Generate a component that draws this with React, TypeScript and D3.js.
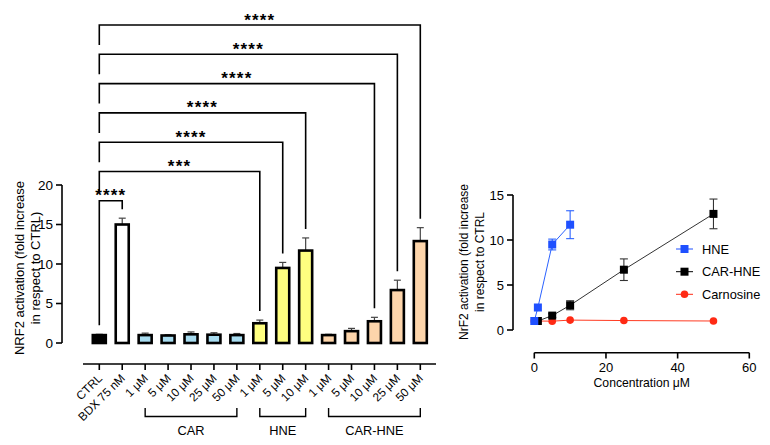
import React from "react";
import * as d3 from "d3";

// ---------- Left chart data ----------
const categories = [
  "CTRL", "BDX 75 nM",
  "1 μM", "5 μM", "10 μM", "25 μM", "50 μM",
  "1 μM", "5 μM", "10 μM",
  "1 μM", "5 μM", "10 μM", "25 μM", "50 μM",
];
const barGroups = ["ctrl", "bdx", "car", "car", "car", "car", "car", "hne", "hne", "hne", "carhne", "carhne", "carhne", "carhne", "carhne"];
const barValues = [1.0, 15.0, 1.0, 0.95, 1.1, 1.05, 1.0, 2.5, 9.5, 11.7, 1.0, 1.5, 2.75, 6.7, 12.9];
const barErrors = [0.1, 0.8, 0.25, 0.1, 0.3, 0.25, 0.2, 0.4, 0.7, 1.6, 0.1, 0.35, 0.5, 1.25, 1.7];
const leftTicks = [0, 5, 10, 15, 20];

// brackets: target index (from CTRL), stars label
const brackets = [
  { to: 14, label: "****" },
  { to: 13, label: "****" },
  { to: 12, label: "****" },
  { to: 9, label: "****" },
  { to: 8, label: "****" },
  { to: 7, label: "***" },
  { to: 1, label: "****" },
];
const groupBrackets = [
  { name: "CAR", from: 2, to: 6 },
  { name: "HNE", from: 7, to: 9 },
  { name: "CAR-HNE", from: 10, to: 14 },
];

// ---------- Right chart data ----------
const hneX = [0, 1, 5, 10];
const hneY = [1.0, 2.5, 9.5, 11.7];
const hneErr = [0, 0.1, 0.6, 1.55];
const carHneX = [1, 5, 10, 25, 50];
const carHneY = [1.0, 1.6, 2.75, 6.7, 12.9];
const carHneErr = [0, 0.2, 0.5, 1.2, 1.65];
const carnosineX = [0, 1, 5, 10, 25, 50];
const carnosineY = [1.0, 1.0, 0.98, 1.1, 1.05, 1.0];
const rightYTicks = [0, 5, 10, 15];
const rightXTicks = [0, 20, 40, 60];

const FONT = "'Liberation Sans', Arial, Helvetica, sans-serif";
const fills: Record<string, string> = {
  ctrl: "#000000",
  bdx: "#ffffff",
  car: "#a8dcf0",
  hne: "#ffff80",
  carhne: "#fdd5ab",
};

export default function App() {
  // left scales
  const yL = d3.scaleLinear().domain([0, 20]).range([343, 185]);
  const xL = d3.scalePoint<number>().domain(d3.range(categories.length)).range([99.3, 420.3]);
  const barW = 13;
  const axisY = 364;

  // right scales
  const xR = d3.scaleLinear().domain([0, 60]).range([534.3, 749.3]);
  const yR = d3.scaleLinear().domain([0, 15]).range([330, 195]);
  const line = d3.line<[number, number]>().x((d) => xR(d[0])).y((d) => yR(d[1]));

  const hne: [number, number][] = hneX.map((x, i) => [x, hneY[i]]);
  const carHne: [number, number][] = carHneX.map((x, i) => [x, carHneY[i]]);
  const carn: [number, number][] = carnosineX.map((x, i) => [x, carnosineY[i]]);

  const topOf = (i: number) => yL(barValues[i] + barErrors[i]);

  return (
    <svg width={770} height={445} style={{ display: "block", position: "absolute", left: 0, top: 0 }} fontFamily={FONT}>
      <rect width={770} height={445} fill="#fff" />
      {/* ---------- Left chart ---------- */}
      <line x1={62} x2={62} y1={yL(20)} y2={yL(0)} stroke="#000" strokeWidth={1.6} />
      {leftTicks.map((t) => (
        <g key={t}>
          <line x1={56} x2={62} y1={yL(t)} y2={yL(t)} stroke="#000" strokeWidth={1.6} />
          <text x={53} y={yL(t)} dy="0.36em" textAnchor="end" fontSize={13.5}>{t}</text>
        </g>
      ))}
      <g transform={`translate(29,268) rotate(-90)`}>
        <text x={0} y={-5} textAnchor="middle" fontSize={13}>NRF2 activation (fold increase</text>
        <text x={0} y={11} textAnchor="middle" fontSize={13}>in respect to CTRL)</text>
      </g>

      {/* bars */}
      {barValues.map((v, i) => {
        const cx = xL(i)!;
        return (
          <g key={i}>
            <line x1={cx} x2={cx} y1={yL(v)} y2={yL(v + barErrors[i])} stroke="#444" strokeWidth={1.2} />
            <line x1={cx - 3.5} x2={cx + 3.5} y1={yL(v + barErrors[i])} y2={yL(v + barErrors[i])} stroke="#444" strokeWidth={1.2} />
            <rect x={cx - barW / 2} y={yL(v)} width={barW} height={yL(0) - yL(v)} fill={fills[barGroups[i]]} stroke="#000" strokeWidth={2.6} />
          </g>
        );
      })}

      {/* x axis */}
      <line x1={83} x2={436} y1={axisY} y2={axisY} stroke="#000" strokeWidth={1.6} />
      {categories.map((c, i) => {
        const cx = xL(i)!;
        return (
          <g key={i}>
            <line x1={cx} x2={cx} y1={axisY} y2={axisY + 6} stroke="#000" strokeWidth={1.6} />
            <text transform={`translate(${cx + 3.5},${axisY + 15}) rotate(-45)`} textAnchor="end" fontSize={11.8}>{c}</text>
          </g>
        );
      })}
      {groupBrackets.map((g) => {
        const x1 = xL(g.from)!;
        const x2 = xL(g.to)!;
        return (
          <g key={g.name}>
            <path d={`M${x1},408 V416.5 H${x2} V408`} fill="none" stroke="#000" strokeWidth={1.4} />
            <text x={(x1 + x2) / 2} y={435} textAnchor="middle" fontSize={12.8}>{g.name}</text>
          </g>
        );
      })}

      {/* significance brackets */}
      {brackets.map((b, k) => {
        const ly = 25 + k * 29.3;
        const x1 = xL(0)!;
        const x2 = xL(b.to)!;
        const rightEnd = topOf(b.to) - 9;
        const leftEnd = b.to === 1 ? topOf(0) - 9 : ly + 20;
        return (
          <g key={k}>
            <path d={`M${x1},${leftEnd} V${ly} H${x2} V${rightEnd}`} fill="none" stroke="#000" strokeWidth={1.6} />
            <text x={(x1 + x2) / 2} y={ly + 0.5} textAnchor="middle" fontSize={17} fontWeight="bold" letterSpacing={1.2}>{b.label}</text>
          </g>
        );
      })}

      {/* ---------- Right chart ---------- */}
      <line x1={513} x2={513} y1={yR(15)} y2={yR(0)} stroke="#000" strokeWidth={1.6} />
      {rightYTicks.map((t) => (
        <g key={t}>
          <line x1={507} x2={513} y1={yR(t)} y2={yR(t)} stroke="#000" strokeWidth={1.6} />
          <text x={504} y={yR(t)} dy="0.36em" textAnchor="end" fontSize={13}>{t}</text>
        </g>
      ))}
      <line x1={xR(0)} x2={xR(60)} y1={352.7} y2={352.7} stroke="#000" strokeWidth={1.6} />
      {rightXTicks.map((t) => (
        <g key={t}>
          <line x1={xR(t)} x2={xR(t)} y1={352.7} y2={358.5} stroke="#000" strokeWidth={1.6} />
          <text x={xR(t)} y={372} textAnchor="middle" fontSize={13}>{t}</text>
        </g>
      ))}
      <text x={(xR(0) + xR(60)) / 2} y={387} textAnchor="middle" fontSize={12.2}>Concentration μM</text>
      <g transform={`translate(472,262) rotate(-90)`}>
        <text x={0} y={-4} textAnchor="middle" fontSize={12}>NrF2 activation (fold increase</text>
        <text x={0} y={12} textAnchor="middle" fontSize={12}>in respect to CTRL</text>
      </g>

      {/* carnosine */}
      <path d={line(carn)!} fill="none" stroke="#ff3b22" strokeWidth={1} />
      {carn.map((d, i) => (
        <circle key={i} cx={xR(d[0])} cy={yR(d[1])} r={3.8} fill="#ff2a14" />
      ))}
      {/* CAR-HNE */}
      <path d={line(carHne)!} fill="none" stroke="#333" strokeWidth={1} />
      {carHne.map((d, i) => {
        const e = carHneErr[i];
        const cx = xR(d[0]);
        return (
          <g key={i}>
            {e > 0 && (
              <g stroke="#333" strokeWidth={1.1}>
                <line x1={cx} x2={cx} y1={yR(d[1] - e)} y2={yR(d[1] + e)} />
                <line x1={cx - 4} x2={cx + 4} y1={yR(d[1] + e)} y2={yR(d[1] + e)} />
                <line x1={cx - 4} x2={cx + 4} y1={yR(d[1] - e)} y2={yR(d[1] - e)} />
              </g>
            )}
            <rect x={cx - 4} y={yR(d[1]) - 4} width={8} height={8} fill="#000" />
          </g>
        );
      })}
      {/* HNE */}
      <path d={line(hne)!} fill="none" stroke="#2b62ff" strokeWidth={1} />
      {hne.map((d, i) => {
        const e = hneErr[i];
        const cx = xR(d[0]);
        return (
          <g key={i}>
            {e > 0.2 && (
              <g stroke="#2b62ff" strokeWidth={1.1}>
                <line x1={cx} x2={cx} y1={yR(d[1] - e)} y2={yR(d[1] + e)} />
                <line x1={cx - 4} x2={cx + 4} y1={yR(d[1] + e)} y2={yR(d[1] + e)} />
                <line x1={cx - 4} x2={cx + 4} y1={yR(d[1] - e)} y2={yR(d[1] - e)} />
              </g>
            )}
            <rect x={cx - 4} y={yR(d[1]) - 4} width={8} height={8} fill="#1f50ff" />
          </g>
        );
      })}

      {/* legend */}
      {[
        { name: "HNE", color: "#1f50ff", shape: "sq", y: 249 },
        { name: "CAR-HNE", color: "#000", shape: "sq", y: 271.7 },
        { name: "Carnosine", color: "#ff2a14", shape: "ci", y: 294.3 },
      ].map((l) => (
        <g key={l.name}>
          <line x1={676} x2={693} y1={l.y} y2={l.y} stroke={l.color} strokeWidth={1} />
          {l.shape === "sq" ? (
            <rect x={680.5} y={l.y - 4} width={8} height={8} fill={l.color} />
          ) : (
            <circle cx={684.5} cy={l.y} r={3.8} fill={l.color} />
          )}
          <text x={702} y={l.y} dy="0.36em" fontSize={12.8}>{l.name}</text>
        </g>
      ))}
    </svg>
  );
}
